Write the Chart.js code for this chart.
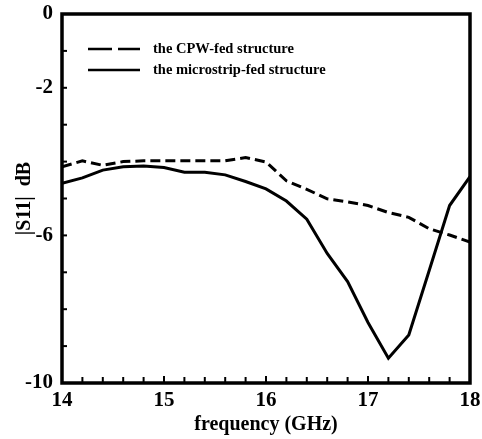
<!DOCTYPE html>
<html>
<head>
<meta charset="utf-8">
<title>|S11| vs frequency</title>
<script src="https://cdn.jsdelivr.net/npm/chart.js@4.4.1/dist/chart.umd.min.js"></script>
<style>
    html, body { margin: 0; padding: 0; background: #fff; }
    #wrap { width: 482px; height: 439px; position: relative; }
</style>
</head>
<body>
<div id="wrap"><canvas id="s11Chart"></canvas></div>
<script>
// Return loss of the two feed structures, sampled every 0.2 GHz
const freqGHz = [14.0, 14.2, 14.4, 14.6, 14.8, 15.0, 15.2, 15.4, 15.6, 15.8, 16.0,
                 16.2, 16.4, 16.6, 16.8, 17.0, 17.2, 17.4, 17.6, 17.8, 18.0];
const cpwFed = [-4.14, -3.98, -4.10, -4.00, -3.98, -3.98, -3.98, -3.98, -3.98, -3.89, -4.01,
                -4.52, -4.75, -5.01, -5.09, -5.19, -5.38, -5.51, -5.82, -5.99, -6.18];
const microstripFed = [-4.59, -4.44, -4.23, -4.14, -4.12, -4.16, -4.29, -4.29, -4.36, -4.54, -4.74,
                       -5.07, -5.56, -6.49, -7.25, -8.36, -9.33, -8.70, -6.95, -5.19, -4.41];

const seriesLabels = ['the CPW-fed structure', 'the microstrip-fed structure'];
const yLabelled = [0, -2, -6, -10];
const xLabelled = [14, 15, 16, 17, 18];

const serif = '"Liberation Serif", "Times New Roman", serif';

function toPoints(ys) {
    return freqGHz.map((f, i) => ({ x: f, y: ys[i] }));
}

// Frame, inward ticks and the in-plot legend
const framePlugin = {
    id: 'frame',
    afterDatasetsDraw(chart) {
        const { ctx, chartArea: a, scales } = chart;
        ctx.save();
        ctx.strokeStyle = '#000';

        // ticks along the bottom (every 0.2 GHz)
        ctx.lineWidth = 2;
        freqGHz.forEach(f => {
            const px = scales.x.getPixelForValue(f);
            const len = Number.isInteger(f) ? 7 : 6;
            ctx.beginPath();
            ctx.moveTo(px, a.bottom);
            ctx.lineTo(px, a.bottom - len);
            ctx.stroke();
        });
        // ticks along the left (every 1 dB)
        for (let v = 0; v >= -10; v--) {
            const py = scales.y.getPixelForValue(v);
            ctx.beginPath();
            ctx.moveTo(a.left, py);
            ctx.lineTo(a.left + 5, py);
            ctx.stroke();
        }

        // box
        ctx.lineWidth = 3.5;
        ctx.strokeRect(a.left, a.top, a.right - a.left, a.bottom - a.top);

        // legend
        const lx0 = 88, lx1 = 140;
        const rows = [49, 70];
        ctx.lineWidth = 2.5;
        ctx.setLineDash([24, 6]);
        ctx.beginPath();
        ctx.moveTo(lx0, rows[0]);
        ctx.lineTo(lx1, rows[0]);
        ctx.stroke();
        ctx.setLineDash([]);
        ctx.beginPath();
        ctx.moveTo(lx0, rows[1]);
        ctx.lineTo(lx1, rows[1]);
        ctx.stroke();

        ctx.fillStyle = '#000';
        ctx.font = 'bold 14.5px ' + serif;
        ctx.textBaseline = 'middle';
        ctx.textAlign = 'left';
        ctx.fillText(seriesLabels[0], 153, rows[0]);
        ctx.fillText(seriesLabels[1], 153, rows[1]);
        ctx.restore();
    }
};

new Chart(document.getElementById('s11Chart'), {
    type: 'scatter',
    data: {
        datasets: [
            {
                label: seriesLabels[0],
                data: toPoints(cpwFed),
                showLine: true,
                borderColor: '#000',
                borderWidth: 3,
                borderDash: [10, 5],
                pointRadius: 0,
                tension: 0
            },
            {
                label: seriesLabels[1],
                data: toPoints(microstripFed),
                showLine: true,
                borderColor: '#000',
                borderWidth: 3,
                pointRadius: 0,
                tension: 0
            }
        ]
    },
    options: {
        responsive: true,
        maintainAspectRatio: false,
        animation: false,
        layout: { padding: { top: 14, right: 12, left: 0, bottom: 0 } },
        plugins: {
            legend: { display: false },
            tooltip: { enabled: false }
        },
        scales: {
            x: {
                type: 'linear',
                min: 14,
                max: 18,
                border: { display: false },
                // tick marks come from the frame plugin; tickLength only spaces the labels
                grid: { display: false, drawTicks: true, tickLength: 5 },
                afterFit(scale) { scale.height = 56; },
                afterBuildTicks(scale) {
                    scale.ticks = xLabelled.map(v => ({ value: v }));
                },
                ticks: {
                    color: '#000',
                    padding: 0,
                    maxRotation: 0,
                    font: { family: serif, size: 21, weight: 'bold' }
                },
                title: {
                    display: true,
                    text: 'frequency (GHz)',
                    color: '#000',
                    padding: { top: 0, bottom: 2 },
                    font: { family: serif, size: 20, weight: 'bold' }
                }
            },
            y: {
                type: 'linear',
                min: -10,
                max: 0,
                border: { display: false },
                grid: { display: false, drawTicks: true, tickLength: 9 },
                afterFit(scale) { scale.width = 62; },
                afterBuildTicks(scale) {
                    scale.ticks = yLabelled.map(v => ({ value: v }));
                },
                ticks: {
                    color: '#000',
                    padding: 0,
                    font: { family: serif, size: 21, weight: 'bold' }
                },
                title: {
                    display: true,
                    text: '|S11|  dB',
                    color: '#000',
                    padding: { top: 13, bottom: 0 },
                    font: { family: serif, size: 20, weight: 'bold' }
                }
            }
        }
    },
    plugins: [framePlugin]
});
</script>
</body>
</html>
